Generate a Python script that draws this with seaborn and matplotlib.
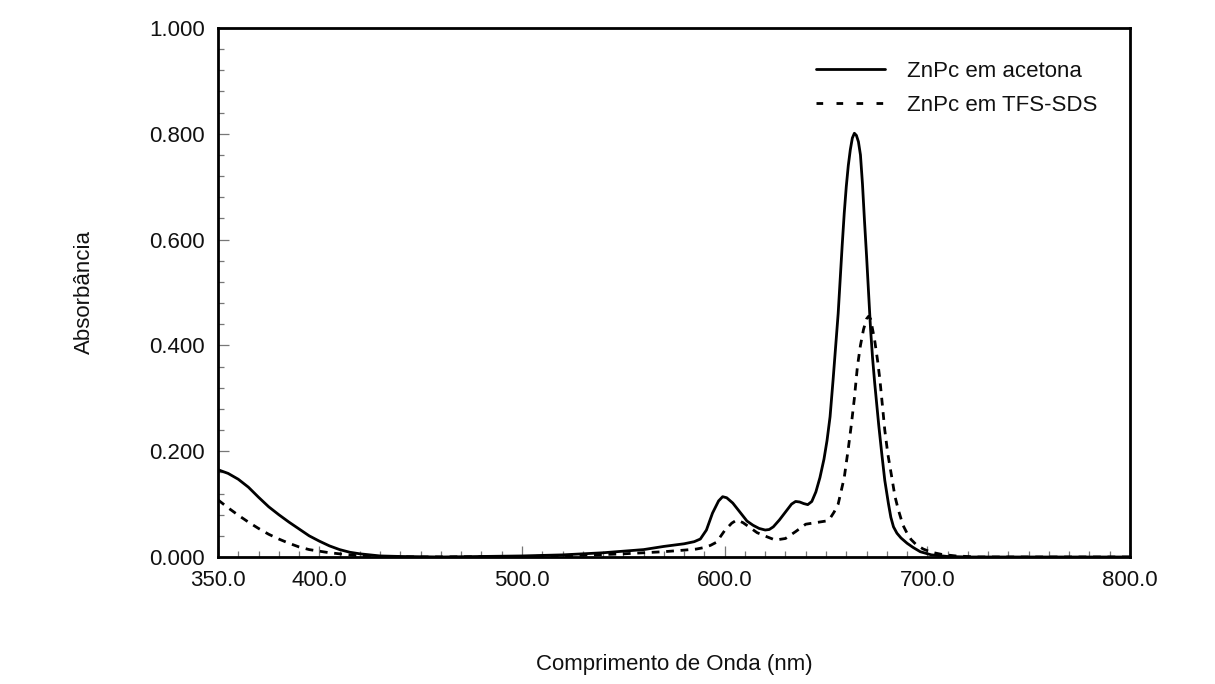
import numpy as np
import pandas as pd
import matplotlib
matplotlib.use("Agg")
import matplotlib.pyplot as plt
import seaborn as sns
from matplotlib.ticker import FixedLocator, MultipleLocator, FormatStrFormatter

# Wavelength (nm) / absorbance readings
wl_acetona = [350, 355, 360, 365, 370, 375, 380, 385, 390, 395, 400, 405, 410, 415, 420, 425, 430, 440, 460,
              500, 520, 540, 560, 570, 580, 585, 588, 591, 594, 597, 599, 601, 604, 607.5, 611, 614, 617, 620,
              622, 624, 627, 630, 633, 635, 637, 639, 641, 643, 645, 647, 649, 650.5, 652, 653.5, 655, 656,
              657, 658, 659, 660, 661, 662, 663, 664, 665, 666, 667, 668, 669, 670, 671, 672, 673, 674, 676,
              677.5, 679, 680.8, 682, 683.3, 685, 687, 690, 693, 696.5, 702, 710, 720, 800]
abs_acetona = [0.165, 0.158, 0.147, 0.132, 0.113, 0.095, 0.080, 0.066, 0.053, 0.040, 0.030, 0.021, 0.014, 0.009,
               0.006, 0.004, 0.002, 0.001, 0.000,
               0.002, 0.004, 0.008, 0.014, 0.020, 0.025, 0.029, 0.034, 0.051, 0.083, 0.106, 0.114, 0.112, 0.102,
               0.085, 0.068, 0.060, 0.054, 0.051, 0.052, 0.057, 0.070, 0.085, 0.100, 0.105, 0.104, 0.101, 0.099,
               0.105, 0.123, 0.150, 0.185, 0.220, 0.265, 0.335, 0.410, 0.460, 0.525, 0.590, 0.650, 0.700, 0.740,
               0.770, 0.792, 0.801, 0.797, 0.785, 0.760, 0.705, 0.635, 0.570, 0.500, 0.430, 0.375, 0.330, 0.250,
               0.196, 0.145, 0.101, 0.075, 0.057, 0.045, 0.036, 0.026, 0.018, 0.010, 0.004, 0.001, 0.000, 0.000]

wl_tfs = [350, 355, 360, 365, 370, 375, 380, 385, 390, 395, 400, 405, 410, 415, 420, 430, 450,
          500, 520, 550, 570, 580, 586, 590, 593, 596, 600, 603.5, 606, 609, 612, 616, 621, 625, 630, 635,
          640, 645, 650, 652, 654, 656, 657.5, 659, 661, 662.5, 664, 665.5, 667, 668.5, 670, 671, 672, 673,
          674, 675.5, 676.6, 678, 679, 680.5, 682.4, 684, 685.7, 688, 690, 692, 694.6, 698, 702, 707, 714,
          725, 800]
abs_tfs = [0.108, 0.093, 0.079, 0.066, 0.054, 0.043, 0.034, 0.026, 0.019, 0.014, 0.011, 0.008, 0.006, 0.004,
           0.002, 0.001, 0.000,
           0.001, 0.002, 0.006, 0.010, 0.013, 0.015, 0.018, 0.022, 0.028, 0.050, 0.064, 0.070, 0.065, 0.057,
           0.046, 0.038, 0.032, 0.035, 0.048, 0.062, 0.065, 0.068, 0.073, 0.085, 0.100, 0.125, 0.150, 0.205,
           0.250, 0.300, 0.360, 0.400, 0.430, 0.450, 0.455, 0.450, 0.430, 0.410, 0.370, 0.335, 0.280, 0.240,
           0.195, 0.152, 0.115, 0.089, 0.060, 0.045, 0.033, 0.023, 0.015, 0.009, 0.005, 0.002, 0.000, 0.000]

label_acetona = "ZnPc em acetona"
label_tfs = "ZnPc em TFS-SDS"
x_major = [350, 400, 500, 600, 700, 800]
y_major = [0.0, 0.2, 0.4, 0.6, 0.8, 1.0]

sns.set_theme(style="white")
plt.rcParams["font.family"] = ["Liberation Sans", "DejaVu Sans"]

df = pd.concat([
    pd.DataFrame({"wl": wl_acetona, "A": abs_acetona, "serie": label_acetona}),
    pd.DataFrame({"wl": wl_tfs, "A": abs_tfs, "serie": label_tfs}),
], ignore_index=True)

fig = plt.figure(figsize=(12.15, 6.84), dpi=100)
ax = fig.add_axes([218 / 1215, 1 - 557 / 684, (1130 - 218) / 1215, (557 - 28) / 684])

sns.lineplot(data=df, x="wl", y="A", hue="serie", style="serie",
             palette={label_acetona: "black", label_tfs: "black"},
             dashes={label_acetona: "", label_tfs: (2.8, 2.4)},
             linewidth=2.0, ax=ax, sort=False)

ax.set_xlim(350, 800)
ax.set_ylim(0, 1.0)
ax.xaxis.set_major_locator(FixedLocator(x_major))
ax.xaxis.set_minor_locator(MultipleLocator(10))
ax.yaxis.set_major_locator(FixedLocator(y_major))
ax.yaxis.set_minor_locator(MultipleLocator(0.04))
ax.xaxis.set_major_formatter(FormatStrFormatter("%.1f"))
ax.yaxis.set_major_formatter(FormatStrFormatter("%.3f"))

ax.tick_params(axis="both", which="major", direction="in", length=8, width=0.9, color="#777777",
               labelsize=16, labelcolor="#111111")
ax.tick_params(axis="x", which="major", pad=9)
ax.tick_params(axis="y", which="major", pad=9.5)
ax.tick_params(axis="both", which="minor", direction="in", length=4.5, width=0.9, color="#777777")
ax.tick_params(axis="x", which="both", bottom=True, top=False)
ax.tick_params(axis="y", which="both", left=True, right=False)

for s in ax.spines.values():
    s.set_color("black")
    s.set_linewidth(2.0)

ax.set_xlabel("Comprimento de Onda (nm)", fontsize=16, labelpad=46, color="#111111")
ax.set_ylabel("Absorbância", fontsize=16, labelpad=39, color="#111111")

leg = ax.legend(loc="upper right", bbox_to_anchor=(0.986, 0.975), frameon=False, fontsize=16,
                handlelength=3.1, handletextpad=1.0, labelspacing=0.58)
leg_lines = leg.get_lines()
for h in leg_lines:
    h.set_linewidth(2.0)
leg_lines[1].set_linestyle((0, (2.4, 4.8)))
for t in leg.get_texts():
    t.set_color("#111111")

fig.savefig("out.png", dpi=100, facecolor="white")
